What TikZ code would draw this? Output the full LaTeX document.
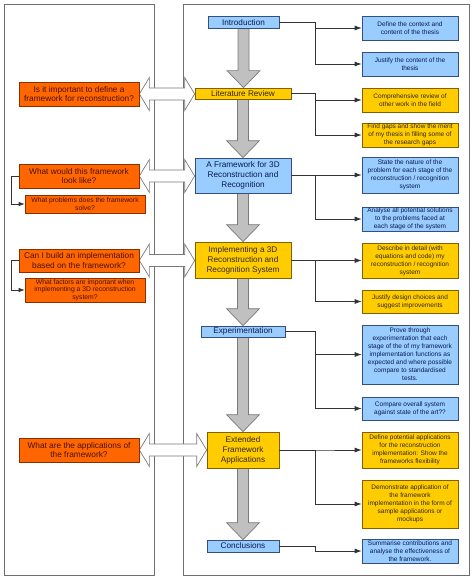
\documentclass[tikz,border=0pt]{standalone}
\usepackage{fontspec}
\setmainfont{Liberation Sans}
\usetikzlibrary{arrows.meta,calc}
\definecolor{bfill}{HTML}{99CCFF}
\definecolor{bdraw}{HTML}{34507A}
\definecolor{btext}{HTML}{0A1A50}
\definecolor{yfill}{HTML}{FFCC00}
\definecolor{ydraw}{HTML}{806000}
\definecolor{ytext}{HTML}{33260A}
\definecolor{ofill}{HTML}{FF6600}
\definecolor{odraw}{HTML}{8A3000}
\definecolor{otext}{HTML}{4A1000}
\definecolor{panelc}{HTML}{6E6E6E}
\definecolor{gfill}{HTML}{C0C0C0}
\definecolor{gdraw}{HTML}{7A7A7A}
\definecolor{connc}{HTML}{333333}
\pgfdeclarelayer{back}
\pgfdeclarelayer{mid}
\pgfsetlayers{back,mid,main}
\newcommand\bigarrow[2]{\draw[garrow] let \p1=(#1.south), \p2=(#2.north) in (\x1-5.5pt,\y1) -- (\x1+5.5pt,\y1) -- (\x1+5.5pt,\y2+17pt) -- (\x1+16.5pt,\y2+17pt) -- (\x1,\y2) -- (\x1-16.5pt,\y2+17pt) -- (\x1-5.5pt,\y2+17pt) -- cycle;}
\newcommand\dblarrow[2]{\draw[warrow] let \p1=(#1.east), \p2=(#2.west) in (\x1,\y1) -- (\x1+10pt,\y1+16.5pt) -- (\x1+10pt,\y1+6pt) -- (\x2-10pt,\y1+6pt) -- (\x2-10pt,\y1+16.5pt) -- (\x2,\y1) -- (\x2-10pt,\y1-16.5pt) -- (\x2-10pt,\y1-6pt) -- (\x1+10pt,\y1-6pt) -- (\x1+10pt,\y1-16.5pt) -- cycle;}
\begin{document}
\begin{tikzpicture}[x=1pt,y=-1pt,
  box/.style={draw, line width=0.7pt, inner sep=1pt, align=center, anchor=center},
  mainb/.style={box, fill=bfill, draw=bdraw, text=btext, font=\fontsize{8.2}{10}\selectfont},
  mainy/.style={box, fill=yfill, draw=ydraw, text=ytext, font=\fontsize{8.2}{10}\selectfont},
  sideb/.style={box, fill=bfill, draw=bdraw, text=btext, minimum width=96, font=\fontsize{6.5}{8}\selectfont},
  sidey/.style={box, fill=yfill, draw=ydraw, text=ytext, minimum width=96, font=\fontsize{6.5}{8}\selectfont},
  qbig/.style={box, fill=ofill, draw=odraw, text=otext, minimum width=120, font=\fontsize{8.3}{9.5}\selectfont},
  qsmall/.style={box, fill=ofill, draw=odraw, text=otext, minimum width=120, font=\fontsize{6.8}{7.6}\selectfont},
  panel/.style={draw=panelc, line width=0.8pt},
  garrow/.style={fill=gfill, draw=gdraw, line width=0.7pt},
  warrow/.style={fill=white, draw=gdraw, line width=0.7pt},
  conn/.style={draw=connc, line width=0.7pt, -{Latex[length=7pt,width=5pt]}},
  lconn/.style={draw=connc, line width=0.7pt, -{Latex[length=6pt,width=4.5pt]}}
]
\useasboundingbox (0,0) rectangle (474,583);

% main column
\node[mainb, minimum width=71, minimum height=11.5] (intro) at (243.5,22.5) {Introduction};
\node[mainy, minimum width=96, minimum height=11] (lit) at (243,93.5) {Literature Review};
\node[mainb, minimum width=96, minimum height=35] (frame) at (243,175.5) {A Framework for 3D\\Reconstruction and\\Recognition};
\node[mainy, minimum width=96, minimum height=36] (impl) at (243,260) {Implementing a 3D\\Reconstruction and\\Recognition System};
\node[mainb, minimum width=84, minimum height=11] (exper) at (243,331.5) {Experimentation};
\node[mainy, minimum width=72, minimum height=36] (ext) at (243,450) {Extended\\Framework\\Applications};
\node[mainb, minimum width=72, minimum height=12] (concl) at (243,546) {Conclusions};

% right column
\node[sideb, minimum height=24] (def) at (410,28) {Define the context and\\content of the thesis};
\node[sideb, minimum height=24] (just) at (410,64) {Justify the content of the\\thesis};
\node[sidey, minimum height=24] (comp) at (410,100) {Comprehensive review of\\other work in the field};
\node[sidey, minimum height=24] (gaps) at (410,135) {Find gaps and show the merit\\of my thesis in filling some of\\the research gaps};
\node[sideb, minimum height=36] (state) at (410,175) {State the nature of the\\problem for each stage of the\\reconstruction / recognition\\system};
\node[sideb, minimum height=24] (anal) at (410,219) {Analyse all potential solutions\\to the problems faced at\\each stage of the system};
\node[sidey, minimum height=35] (desc) at (410,260.5) {Describe in detail (with\\equations and code) my\\reconstruction / recognition\\system};
\node[sidey, minimum height=23] (jdes) at (410,301.5) {Justify design choices and\\suggest improvements};
\node[sideb, minimum height=59] (prove) at (410,354.5) {Prove through\\experimentation that each\\stage of the of my framework\\implementation functions as\\expected and where possible\\compare to standardised\\tests.};
\node[sideb, minimum height=23] (compare) at (410,408.5) {Compare overall system\\against state of the art??};
\node[sidey, minimum height=36] (defpot) at (410,450) {Define potential applications\\for the reconstruction\\implementation: Show the\\frameworks flexibility};
\node[sidey, minimum height=48] (demo) at (410,504) {Demonstrate application of\\the framework\\implementation in the form of\\sample applications or\\mockups};
\node[sideb, minimum height=24] (summ) at (410,551) {Summarise contributions and\\analyse the effectiveness of\\the framework.};

% left column
\node[qbig, minimum height=24] (q1) at (79,94) {Is it important to define a\\framework for reconstruction?};
\node[qbig, minimum height=24] (q2) at (79,176) {What would this framework\\look like?};
\node[qsmall, minimum height=18] (q3) at (85,204) {What problems does the framework\\solve?};
\node[qbig, minimum height=23] (q4) at (79,260.5) {Can I build an implementation\\based on the framework?};
\node[qsmall, minimum height=24] (q5) at (85,290) {What factors are important when\\implementing a 3D reconstruction\\system?};
\node[qbig, minimum height=24] (q6) at (79,450) {What are the applications of\\the framework?};

% background and panels
\begin{pgfonlayer}{back}
\fill[white] (0,0) rectangle (474,583);
\draw[panel] (4,4.5) rectangle (154,575);
\draw[panel] (183,4.5) rectangle (469,575);
\end{pgfonlayer}

% block arrows
\begin{pgfonlayer}{mid}
\bigarrow{intro}{lit}
\bigarrow{lit}{frame}
\bigarrow{frame}{impl}
\bigarrow{impl}{exper}
\bigarrow{exper}{ext}
\bigarrow{ext}{concl}
\dblarrow{q1}{lit}
\dblarrow{q2}{frame}
\dblarrow{q4}{impl}
\dblarrow{q6}{ext}
\end{pgfonlayer}

% connectors
\coordinate (jx) at (315,0);
\coordinate (lx) at (11,0);
\draw[conn] (intro.east) -- (intro.east -| jx) |- (def.west);
\draw[conn] (intro.east) -- (intro.east -| jx) |- (just.west);
\draw[conn] (lit.east) -- (lit.east -| jx) |- (comp.west);
\draw[conn] (lit.east) -- (lit.east -| jx) |- (gaps.west);
\draw[conn] (frame.east) -- (frame.east -| jx) |- (state.west);
\draw[conn] (frame.east) -- (frame.east -| jx) |- (anal.west);
\draw[conn] (impl.east) -- (impl.east -| jx) |- (desc.west);
\draw[conn] (impl.east) -- (impl.east -| jx) |- (jdes.west);
\draw[conn] (exper.east) -- (exper.east -| jx) |- (prove.west);
\draw[conn] (exper.east) -- (exper.east -| jx) |- (compare.west);
\draw[conn] (ext.east) -- (ext.east -| jx) |- (defpot.west);
\draw[conn] (ext.east) -- (ext.east -| jx) |- (demo.west);
\draw[conn] (concl.east) -- (concl.east -| jx) |- (summ.west);
\draw[lconn] (q2.west) -- (q2.west -| lx) |- (q3.west);
\draw[lconn] (q4.west) -- (q4.west -| lx) |- (q5.west);
\end{tikzpicture}
\end{document}
